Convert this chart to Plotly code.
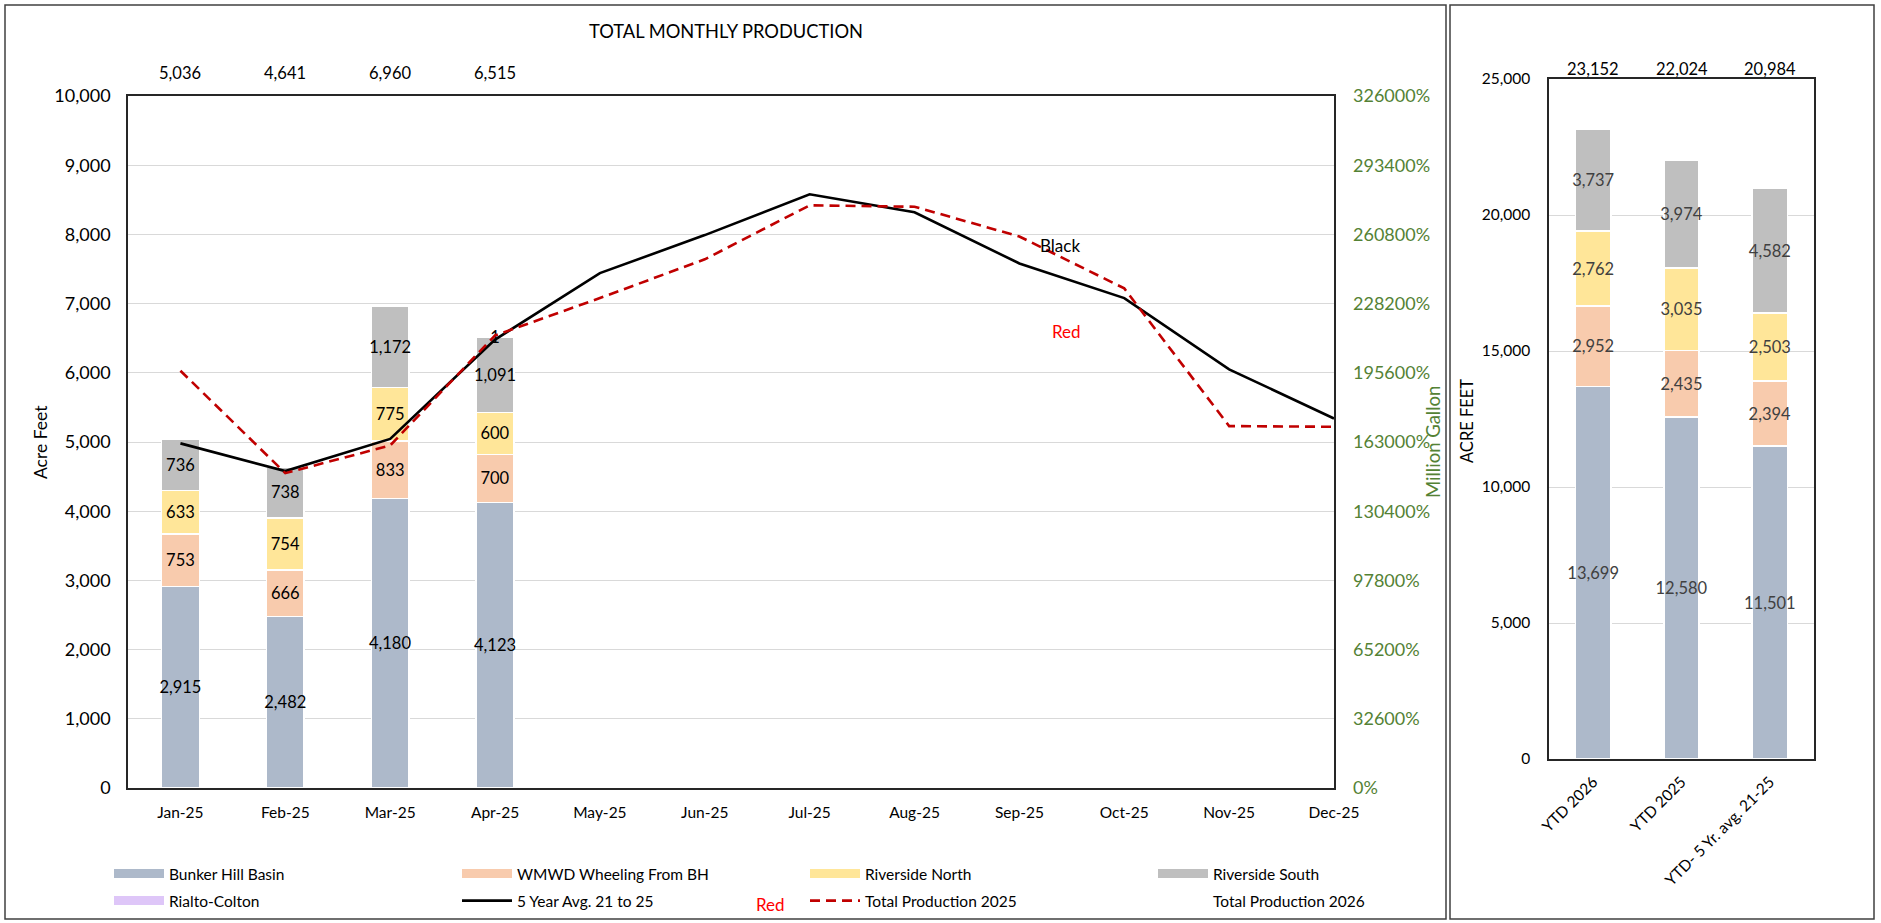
import plotly.graph_objects as go

W, H = 1881, 923
FONT = "Lato, 'Open Sans', sans-serif"

# ---------------- data ----------------
months = ["Jan-25", "Feb-25", "Mar-25", "Apr-25", "May-25", "Jun-25",
          "Jul-25", "Aug-25", "Sep-25", "Oct-25", "Nov-25", "Dec-25"]
bunker_hill = [2915, 2482, 4180, 4123]
wmwd_wheeling = [753, 666, 833, 700]
riverside_north = [633, 754, 775, 600]
riverside_south = [736, 738, 1172, 1091]
rialto_colton = [None, None, None, 1]
monthly_totals = [5036, 4641, 6960, 6515]
avg_5yr = [4980, 4580, 5045, 6480, 7440, 7990, 8580, 8320, 7580, 7080, 6050, 5340]
production_2025 = [6030, 4550, 4950, 6540, 7080, 7640, 8420, 8400, 7970, 7220, 5230, 5220]
production_2026 = [None] * 12

ytd_categories = ["YTD 2026", "YTD 2025", "YTD- 5 Yr. avg. 21-25"]
ytd_bunker_hill = [13699, 12580, 11501]
ytd_wmwd = [2952, 2435, 2394]
ytd_riverside_north = [2762, 3035, 2503]
ytd_riverside_south = [3737, 3974, 4582]
ytd_rialto = [2, 0, 4]
ytd_totals = [23152, 22024, 20984]

y_ticks_left = list(range(0, 10001, 1000))
y2_ticks = [i * 326 for i in range(11)]
y_ticks_right = list(range(0, 25001, 5000))

# ---------------- styles ----------------
C_BH = "#ADB9CA"
C_WM = "#F8CBAD"
C_RN = "#FFE699"
C_RS = "#BFBFBF"
C_RC = "#DEC6F8"
GREEN = "#548235"


def px(x):
    return x / W


def py(y):
    return 1 - y / H


fig = go.Figure()

bar_series = [
    ("Bunker Hill Basin", bunker_hill, C_BH, "legend"),
    ("WMWD Wheeling From BH", wmwd_wheeling, C_WM, "legend"),
    ("Riverside North", riverside_north, C_RN, "legend"),
    ("Riverside South", riverside_south, C_RS, "legend"),
    ("Rialto-Colton", rialto_colton, C_RC, "legend2"),
]
for name, vals, col, leg in bar_series:
    fig.add_trace(go.Bar(
        name=name, x=months[:len(vals)], y=vals, xaxis="x", yaxis="y",
        marker=dict(color=col, line=dict(color="white", width=1.5)),
        width=0.36, showlegend=False, legendgroup=name,
        texttemplate="%{y:,}", textposition="inside", insidetextanchor="middle",
        textangle=0, constraintext="none",
        textfont=dict(family=FONT, size=16.5, color="#000000"),
        hoverinfo="x+y+name",
    ))
    # legend entry drawn as a wide swatch (Excel style)
    fig.add_trace(go.Scatter(
        name=name, x=[None], y=[None], mode="lines", xaxis="x", yaxis="y",
        line=dict(color=col, width=9), legend=leg, legendgroup=name,
        hoverinfo="skip",
    ))

fig.add_trace(go.Scatter(
    name="5 Year Avg. 21 to 25", x=months, y=avg_5yr, mode="lines",
    line=dict(color="#000000", width=2.6), xaxis="x", yaxis="y", legend="legend2",
))
fig.add_trace(go.Scatter(
    name="Total Production 2025", x=months, y=production_2025, mode="lines",
    line=dict(color="#C00000", width=2.6, dash="10px,6px"), xaxis="x", yaxis="y",
    legend="legend2",
))
fig.add_trace(go.Scatter(
    name="Total Production 2026", x=months, y=production_2026, mode="lines",
    line=dict(color="rgba(0,0,0,0)", width=0), xaxis="x", yaxis="y2",
    legend="legend2",
))

ytd_series = [
    ("Bunker Hill Basin", ytd_bunker_hill, C_BH, True),
    ("WMWD Wheeling From BH", ytd_wmwd, C_WM, True),
    ("Riverside North", ytd_riverside_north, C_RN, True),
    ("Riverside South", ytd_riverside_south, C_RS, True),
    ("Rialto-Colton", ytd_rialto, C_RC, False),
]
for name, vals, col, lab in ytd_series:
    fig.add_trace(go.Bar(
        name=name, x=ytd_categories, y=vals, xaxis="x2", yaxis="y3",
        marker=dict(color=col, line=dict(color="white", width=1.5)),
        width=0.4, showlegend=False, legendgroup=name,
        texttemplate="%{y:,}" if lab else None,
        textposition="inside" if lab else "none", insidetextanchor="middle",
        textangle=0, constraintext="none",
        textfont=dict(family=FONT, size=16.5, color="#404040"),
    ))

axis_line = dict(showline=True, linecolor="#262626", linewidth=1.5, mirror=True)

legend_common = dict(orientation="h", x=px(109), xanchor="left",
                     yanchor="middle", entrywidth=283, entrywidthmode="pixels",
                     itemwidth=50, traceorder="normal", font=dict(size=15.5),
                     bgcolor="rgba(0,0,0,0)")

fig.update_layout(
    width=W, height=H,
    margin=dict(l=0, r=0, t=0, b=0),
    paper_bgcolor="white", plot_bgcolor="white",
    barmode="stack", bargap=0.6,
    font=dict(family=FONT, color="#000000", size=15.5),
    xaxis=dict(domain=[px(128), px(1334)], anchor="y", type="category",
               categoryorder="array", categoryarray=months,
               tickfont=dict(size=15.5), ticks="", ticklabelstandoff=10,
               automargin=False, **axis_line),
    yaxis=dict(domain=[py(788), py(96)], anchor="x", range=[0, 10000],
               tickvals=y_ticks_left, tickformat=",", showgrid=True,
               gridcolor="#D9D9D9", gridwidth=1, zeroline=False,
               tickfont=dict(size=18), ticks="", ticklabelstandoff=12,
               automargin=False, **axis_line),
    yaxis2=dict(overlaying="y", side="right", anchor="x", range=[0, 3260],
                tickvals=y2_ticks, tickformat=".0%", showgrid=False,
                zeroline=False, showline=False,
                tickfont=dict(size=18, color=GREEN), ticks="",
                ticklabelstandoff=18, automargin=False),
    xaxis2=dict(domain=[px(1549), px(1814)], anchor="y3", type="category",
                tickangle=-45, tickfont=dict(size=15.5), ticks="",
                ticklabelstandoff=6, automargin=False, **axis_line),
    yaxis3=dict(domain=[py(759), py(79)], anchor="x2", range=[0, 25000],
                tickvals=y_ticks_right, tickformat=",", showgrid=True,
                gridcolor="#D9D9D9", gridwidth=1, zeroline=False,
                tickfont=dict(size=15.5), ticks="", ticklabelstandoff=14,
                automargin=False, **axis_line),
    legend=dict(y=py(874), **legend_common),
    legend2=dict(y=py(901), **legend_common),
    showlegend=True,
)

# chart frames
fig.add_shape(type="rect", xref="paper", yref="paper",
              x0=px(5), x1=px(1446), y0=py(919), y1=py(5),
              line=dict(color="#404040", width=1.5), layer="below")
fig.add_shape(type="rect", xref="paper", yref="paper",
              x0=px(1450), x1=px(1874), y0=py(919), y1=py(5),
              line=dict(color="#404040", width=1.5), layer="below")

C = dict(xanchor="center", yanchor="middle", showarrow=False)
ann = []
ann.append(dict(text="TOTAL MONTHLY PRODUCTION", x=px(726), y=py(31),
                xref="paper", yref="paper", font=dict(size=18.3), **C))
for m, t in zip(months, monthly_totals):
    ann.append(dict(text=f"{t:,}", x=m, y=py(73), xref="x", yref="paper",
                    font=dict(size=16.5), **C))
for c, t in zip(ytd_categories, ytd_totals):
    ann.append(dict(text=f"{t:,}", x=c, y=py(69), xref="x2", yref="paper",
                    font=dict(size=16.5), **C))
ann.append(dict(text="Acre Feet", x=px(40), y=py(442), xref="paper", yref="paper",
                textangle=-90, font=dict(size=17.5), **C))
ann.append(dict(text="Million Gallon", x=px(1433), y=py(442), xref="paper",
                yref="paper", textangle=-90,
                font=dict(size=18.5, color=GREEN), **C))
ann.append(dict(text="ACRE FEET", x=px(1467), y=py(421), xref="paper",
                yref="paper", textangle=-90, font=dict(size=16.5), **C))
ann.append(dict(text="Black", x=px(1060), y=py(246), xref="paper", yref="paper",
                font=dict(size=17), **C))
ann.append(dict(text="Red", x=px(1066), y=py(331), xref="paper", yref="paper",
                font=dict(size=17, color="#FF0000"), **C))
ann.append(dict(text="Red", x=px(770), y=py(904), xref="paper", yref="paper",
                font=dict(size=17, color="#FF0000"), **C))
fig.update_layout(annotations=ann)

fig.write_html("out.html", config={"displayModeBar": False},
               post_script="document.body.style.margin='0px';")
